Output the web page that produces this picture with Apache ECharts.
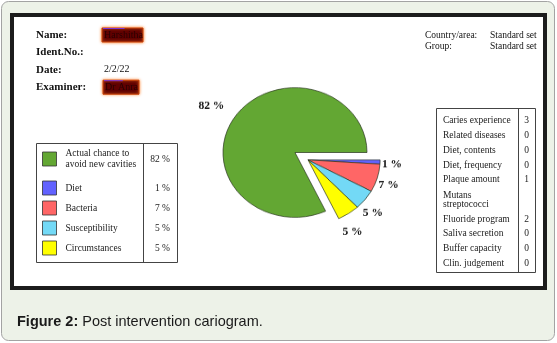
<!DOCTYPE html>
<html><head><meta charset="utf-8">
<script src="https://cdn.jsdelivr.net/npm/echarts@6/dist/echarts.min.js"></script>
<style>
html,body{margin:0;padding:0;background:#fff;}
#wrap{position:relative;width:557px;height:343px;overflow:hidden}
#main{position:absolute;left:0;top:0;width:557px;height:343px}
#pie{position:absolute;left:0;top:0;width:557px;height:343px;transform:scaleY(0.9);transform-origin:0 152.5px}
</style></head><body>
<div id="wrap"><div id="main"></div><div id="pie"></div></div>
<script>
// ---- data ----
const categories = ['Actual chance to\navoid new cavities', 'Diet', 'Bacteria', 'Susceptibility', 'Circumstances'];
const values = [82, 1, 7, 5, 5];
const factorLabels = ['Caries experience', 'Related diseases', 'Diet, contents', 'Diet, frequency', 'Plaque amount',
  'Mutans\nstreptococci', 'Fluoride program', 'Saliva secretion', 'Buffer capacity', 'Clin. judgement'];
const factorValues = ['3', '0', '0', '0', '1', '', '2', '0', '0', '0'];
const headerLabels = ['Name:', 'Ident.No.:', 'Date:', 'Examiner:'];
const headerValues = ['Harshitha', '', '2/2/22', 'Dr Anra'];
const groupLabels = ['Country/area:', 'Group:'];
const groupValues = ['Standard set', 'Standard set'];
const captionBold = 'Figure 2:';
const captionText = ' Post intervention cariogram.';

// ---- styles ----
const colors = ['#63a733', '#6262ff', '#ff6666', '#73d9f6', '#ffff00'];
const serif = '"Liberation Serif","Times New Roman",serif';
const sans = '"Liberation Sans",Arial,sans-serif';

// ---- main (frame, texts, tables) ----
const chart = echarts.init(document.getElementById('main'));
const g = [];
g.push({type:'rect', z:0, shape:{x:1.5, y:1.5, width:553, height:339, r:7},
  style:{fill:'#edf2e8', stroke:'#a3a3a3', lineWidth:1}});
g.push({type:'rect', z:1, shape:{x:12, y:15, width:533, height:273},
  style:{fill:'#ffffff', stroke:'#1c1c1c', lineWidth:4}});

headerLabels.forEach((t, i) => {
  const y = 35 + 17.4 * i;
  g.push({type:'text', z:2, x:36, y:y, style:{text:t, fontFamily:serif, fontWeight:'bold', fontSize:11, fill:'#111', verticalAlign:'middle'}});
});
headerValues.forEach((t, i) => {
  if (!t) return;
  const y = 35 + 17.4 * i;
  if (i === 0 || i === 3) {
    const w = i === 0 ? 41 : 36;
    const x = i === 0 ? 102 : 103;
    g.push({type:'rect', z:2, shape:{x:x, y:y - 7, width:w, height:14},
      style:{fill:'#600000', stroke:'#c8430a', lineWidth:1, shadowColor:'#ff7a20', shadowBlur:3}});
    g.push({type:'line', z:3, shape:{x1:x + 1, y1:y - 6.5, x2:x + w * 0.55, y2:y - 6.5}, style:{stroke:'#7a34d8', lineWidth:1}});
    g.push({type:'text', z:3, x:x + 2, y:y, style:{text:t, fontFamily:serif, fontSize:10, fill:'#2a0000', verticalAlign:'middle'}});
  } else {
    g.push({type:'text', z:2, x:104, y:y, style:{text:t, fontFamily:serif, fontSize:10, fill:'#111', verticalAlign:'middle'}});
  }
});
groupLabels.forEach((t, i) => {
  const y = 35 + 11 * i;
  g.push({type:'text', z:2, x:425, y:y, style:{text:t, fontFamily:serif, fontSize:9.5, fill:'#111', verticalAlign:'middle'}});
  g.push({type:'text', z:2, x:490, y:y, style:{text:groupValues[i], fontFamily:serif, fontSize:9.5, fill:'#111', verticalAlign:'middle'}});
});

// legend table
g.push({type:'rect', z:2, shape:{x:36.5, y:143.5, width:141, height:119}, style:{fill:'none', stroke:'#444', lineWidth:1}});
g.push({type:'line', z:2, shape:{x1:143.5, y1:143.5, x2:143.5, y2:262.5}, style:{stroke:'#444', lineWidth:1}});
categories.forEach((c, i) => {
  const cy = i === 0 ? 159 : 168 + 20 * i;
  g.push({type:'rect', z:2, shape:{x:42.5, y:cy - 7, width:14, height:14}, style:{fill:colors[i], stroke:'#333', lineWidth:0.8}});
  g.push({type:'text', z:2, x:65.5, y:cy, style:{text:c, fontFamily:serif, fontSize:9.5, lineHeight:10.5, fill:'#222', verticalAlign:'middle'}});
  g.push({type:'text', z:2, x:170, y:cy, style:{text:values[i] + ' %', fontFamily:serif, fontSize:9.5, fill:'#222', align:'right', verticalAlign:'middle'}});
});

// factor table
g.push({type:'rect', z:2, shape:{x:436.5, y:108.5, width:99, height:164}, style:{fill:'none', stroke:'#444', lineWidth:1}});
g.push({type:'line', z:2, shape:{x1:518.5, y1:108.5, x2:518.5, y2:272.5}, style:{stroke:'#444', lineWidth:1}});
factorLabels.forEach((t, i) => {
  let cy;
  if (i < 5) cy = 120.7 + 14.8 * i;
  else if (i === 5) cy = 199.6;
  else cy = 219 + 14.8 * (i - 6);
  g.push({type:'text', z:2, x:443, y:cy, style:{text:t, fontFamily:serif, fontSize:9.5, lineHeight:8.8, fill:'#222', verticalAlign:'middle'}});
  g.push({type:'text', z:2, x:526.5, y:cy, style:{text:factorValues[i], fontFamily:serif, fontSize:9.5, fill:'#222', align:'center', verticalAlign:'middle'}});
});

// caption
g.push({type:'text', z:2, x:17, y:322, style:{
  text:'{b|' + captionBold + '}' + captionText,
  fontFamily:sans, fontSize:14.5, fill:'#1a1a1a', verticalAlign:'middle',
  rich:{b:{fontFamily:sans, fontSize:14.5, fontWeight:'bold', fill:'#1a1a1a'}}}});

chart.setOption({animation:false, graphic:g});

// ---- pie ----
const pie = echarts.init(document.getElementById('pie'));
const rest = values.slice(1).reduce((a, b) => a + b, 0);
const R = 72;
const cG = [295, 152.5];
const cS = [308.1, 160.8];
const sliceBorder = {borderColor:'#28321f', borderWidth:0.7};
const hid = v => ({value:v, itemStyle:{color:'rgba(0,0,0,0)', borderWidth:0}, label:{show:false}});
const lab = {show:true, position:'inside', formatter:'{c} %', fontFamily:serif, fontWeight:'bold', fontSize:11.5, color:'#111'};
const base = {type:'pie', clockwise:true, startAngle:0, avoidLabelOverlap:false, silent:true, labelLine:{show:false}, emphasis:{disabled:true}};
// small nudges of the outside labels: right padding (left shift) and a spacer line (down shift)
const labelPadRight = [6, 6, 8, 9];
const labelDrop = [4, 7, 11, 16];

const smallData = values.slice(1).map((v, k) => ({name:categories[k + 1], value:v, itemStyle:Object.assign({color:colors[k + 1]}, sliceBorder)}));
const smallLab = Object.assign({}, lab, {
  formatter: p => '{s' + p.dataIndex + '| }\n' + p.value + ' %',
  rich: {s0:{height:labelDrop[0], fontSize:1}, s1:{height:labelDrop[1], fontSize:1}, s2:{height:labelDrop[2], fontSize:1}, s3:{height:labelDrop[3], fontSize:1}}
});
const bigLab = Object.assign({}, lab, {
  formatter: p => '{s| }\n' + p.value + ' %',
  rich: {s:{height:4, fontSize:1}}
});

pie.setOption({
  animation:false,
  series:[
    Object.assign({}, base, {center:cG, radius:R, label:{show:false},
      data:[hid(rest), {name:categories[0], value:values[0], itemStyle:Object.assign({color:colors[0]}, sliceBorder)}]}),
    Object.assign({}, base, {center:cS, radius:R, label:{show:false},
      data:smallData.concat([hid(values[0])])}),
    Object.assign({}, base, {center:cG, radius:[87, 105], label:bigLab,
      data:[hid(rest), {name:categories[0], value:values[0], itemStyle:{color:'rgba(0,0,0,0)', borderWidth:0}}]}),
    Object.assign({}, base, {center:cS, radius:[75, 93], label:smallLab,
      data:values.slice(1).map((v, k) => ({name:categories[k + 1], value:v,
        itemStyle:{color:'rgba(0,0,0,0)', borderWidth:0}, label:{padding:[0, labelPadRight[k], 0, 0]}})).concat([hid(values[0])])})
  ]
});
</script>
</body></html>
